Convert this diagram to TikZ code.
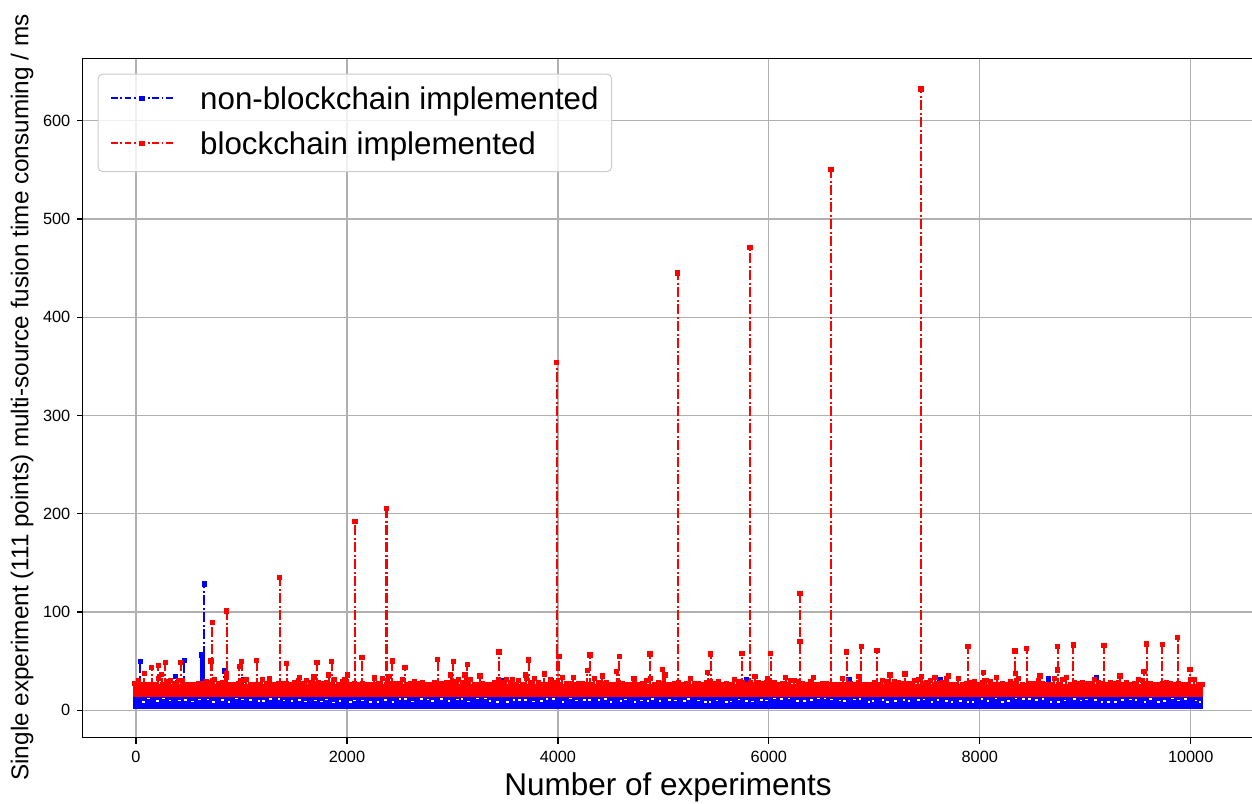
\documentclass[tikz,border=0pt]{standalone}
\usepackage{fontspec}
\setmainfont{Liberation Sans}
\definecolor{gridc}{RGB}{176,176,176}
\definecolor{legc}{RGB}{204,204,204}
\tikzset{
  spine/.style={line width=1.5pt, black},
  gridl/.style={line width=1.3pt, gridc},
  tickl/.style={line width=1.3pt, black},
  ticklab/.style={font=\fontsize{16.3}{19}\selectfont, inner sep=0pt},
  ddline/.style={line width=2.3pt, dash pattern=on 10pt off 2.5pt on 2pt off 2.5pt},
  legline/.style={line width=1.7pt, dash pattern=on 6.5pt off 2.8pt on 1.7pt off 2.8pt},
}
\begin{document}
\begin{tikzpicture}[x=1pt,y=-1pt]
\useasboundingbox (0,0) rectangle (1252,803);
\fill[white] (0,0) rectangle (1252,803);
% grid
\foreach \v in {0,2000,...,10000}{
  \pgfmathsetmacro\xx{136+0.10547*\v}
  \draw[gridl] (\xx,58.3) -- (\xx,737.7);
}
\foreach \v in {0,100,...,600}{
  \pgfmathsetmacro\yy{710.3-0.9827*\v}
  \draw[gridl] (82.3,\yy) -- (1252,\yy);
}
% ---- blue series ----
\fill[blue] (133,696) rectangle (1203,708.7);
\fill[blue] (133,686) rectangle (300,697);
\fill[blue] (200,652) rectangle (204.5,690);
\pgfmathsetseed{5}
\foreach \i in {0,...,150}{
  \pgfmathsetmacro\xx{140+7.1*\i+4*rnd}
  \pgfmathsetmacro\yy{697.5+4*rnd}
  \fill[white] (\xx,\yy) rectangle ++(2.6,1.6);
}
\foreach \x/\t in {140.3/661.7,175.7/676.7,184.3/660.7,201.7/655,204.3/584,224.3/671,243.3/679.3,502.7/681,551.7/681,746.7/680,849/680,940/680,1048.3/679,1096.7/677.7}{
  \draw[ddline,blue] (\x,690) -- (\x,\t);
  \fill[blue] (\x-2.6,\t-2.6) rectangle ++(5.2,5.2);
}
% ---- red series ----
\fill[red] (133,684) rectangle (1203,697);
\pgfmathsetseed{12}
\foreach \i in {0,...,267}{
  \pgfmathsetmacro\xx{134+4*\i}
  \pgfmathsetmacro\tp{685-8*rnd*rnd}
  \fill[red] (\xx-1.2,\tp) rectangle (\xx+1.2,690);
  \fill[red] (\xx-2.5,\tp-2.5) rectangle ++(5,5);
}
\foreach \x/\t in {144.3/673.3,151.7/667.3,158.3/665.3,161.7/674.3,165.3/662.3,180.7/662.7,211/661,212.3/622.5,226.7/611,226.7/673.3,239.3/666.7,241.7/661.7,256.7/660.7,269.3/679,279.7/577.3,286.7/663.3,299.3/677.7,314/677,317/662.7,328.7/675,331.7/661.7,344.3/680,347.3/675,355/521.6,362/657.5,374.3/678,386.5/508.8,389/676.7,392.3/661,405/667.3,
437.7/659.3,450.7/675,453.3/661.7,465/675,467.3/664.3,480/676,499/652,512.7/680,525.7/675,528.7/660,544.3/674,556.7/362.4,559/656.7,573.3/677.7,587.3/670.7,590/655,602.3/676,616.7/671.7,619.3/656.7,634/678.3,650/654,662.7/669.3,665/675,677.7/273,707.7/672.7,710.7/654,742/653.3,750/247.5,755/676.7,767.3/679,770.7/653.3,785.7/677.7,
800/593.3,800/641.7,813.3/677.3,831/169.8,842.7/678.3,846.7/652,859/676.7,861.3/646.7,877/650.7,890/675,905/674,921/89,921.7/676.7,935/677.7,948.3/676,968/646.7,983.3/672.3,996.7/677.7,1015/651,1015.7/673.3,1026.7/648.3,1040/676,1057.7/646.7,1057.7/670,1073.3/645,1104/645.7,1120/676,1144/671.7,1146.7/644,1162.3/644.3,1177.7/637.3,1190/669.3}{
  \draw[ddline,red] (\x,688) -- (\x,\t);
  \fill[red] (\x-2.6,\t-2.6) rectangle ++(5.2,5.2);
}
% ---- spines and ticks ----
\draw[spine] (1252,58.3) -- (82.3,58.3) -- (82.3,737.7) -- (1252,737.7);
\foreach \v in {0,2000,...,10000}{
  \pgfmathsetmacro\xx{136+0.10547*\v}
  \draw[tickl] (\xx,737.7) -- (\xx,743.7);
  \node[ticklab,anchor=base] (xt\v) at (\xx,762.3) {\v};
}
\foreach \v in {0,100,...,600}{
  \pgfmathsetmacro\yy{710.3-0.9827*\v}
  \draw[tickl] (82.3,\yy) -- (76.5,\yy);
  \node[ticklab,anchor=east] (yt\v) at (70.5,\yy) {\v};
}
% axis labels
\node[anchor=base,inner sep=0pt,font=\fontsize{31.5}{36}\selectfont] (xlab) at (668,795.5) {Number of experiments};
\node[anchor=base,rotate=90,inner sep=0pt,font=\fontsize{24.3}{28}\selectfont] (ylab) at (28.3,397.5) {Single experiment (111 points) multi-source fusion time consuming / ms};
% legend
\draw[legc, line width=1pt, fill=white, fill opacity=0.8, rounded corners=5pt] (98,74) rectangle (611.7,171.7);
\draw[legline,blue] (111,98.3) -- (174,98.3);
\fill[blue] (139.4,95.7) rectangle ++(5.2,5.2);
\draw[legline,red] (111,143.3) -- (174,143.3);
\fill[red] (139.4,140.7) rectangle ++(5.2,5.2);
\node[anchor=base west,inner sep=0pt,font=\fontsize{31.3}{36}\selectfont] (leg1) at (200,109.5) {non-blockchain implemented};
\node[anchor=base west,inner sep=0pt,font=\fontsize{31.3}{36}\selectfont] (leg2) at (200,154.5) {blockchain implemented};
\end{tikzpicture}
\end{document}
